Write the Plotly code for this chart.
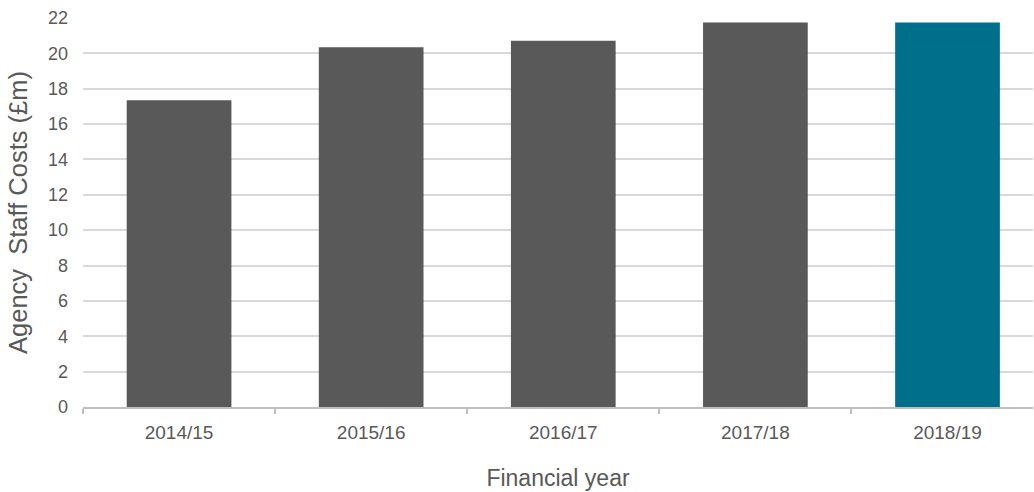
import plotly.graph_objects as go

years = ["2014/15", "2015/16", "2016/17", "2017/18", "2018/19"]
costs = [17.35, 20.35, 20.72, 21.74, 21.74]
colors = ["#595959", "#595959", "#595959", "#595959", "#006F8C"]
y_ticks = list(range(0, 23, 2))

fig = go.Figure(go.Bar(x=years, y=costs, marker=dict(color=colors, line=dict(width=0)), width=0.545))

fig.update_layout(
    width=1034, height=492,
    margin=dict(l=83, r=1, t=18, b=85),
    paper_bgcolor="white", plot_bgcolor="white",
    font=dict(family="Liberation Sans, Arial, sans-serif", color="#595959", size=18),
    showlegend=False,
)
fig.update_yaxes(
    range=[0, 22], tickvals=y_ticks, showgrid=True, gridcolor="#d9d9d9", gridwidth=1.5,
    zeroline=False, showline=False, ticks="", ticklabelstandoff=14,
    tickfont=dict(size=18),
    title=dict(text="Agency  Staff Costs (£m)", font=dict(size=25.5, color="#595959"), standoff=13),
)
fig.update_xaxes(
    range=[-0.5, 4.445],
    showline=True, linecolor="#bfbfbf", linewidth=2, ticks="outside", tickson="boundaries",
    ticklen=5, tickcolor="#bfbfbf", tickwidth=2, showgrid=False, ticklabelstandoff=7,
    tickfont=dict(size=19),
    title=dict(text="Financial year", font=dict(size=23, color="#595959"), standoff=28),
)
fig.write_html("out.html")
